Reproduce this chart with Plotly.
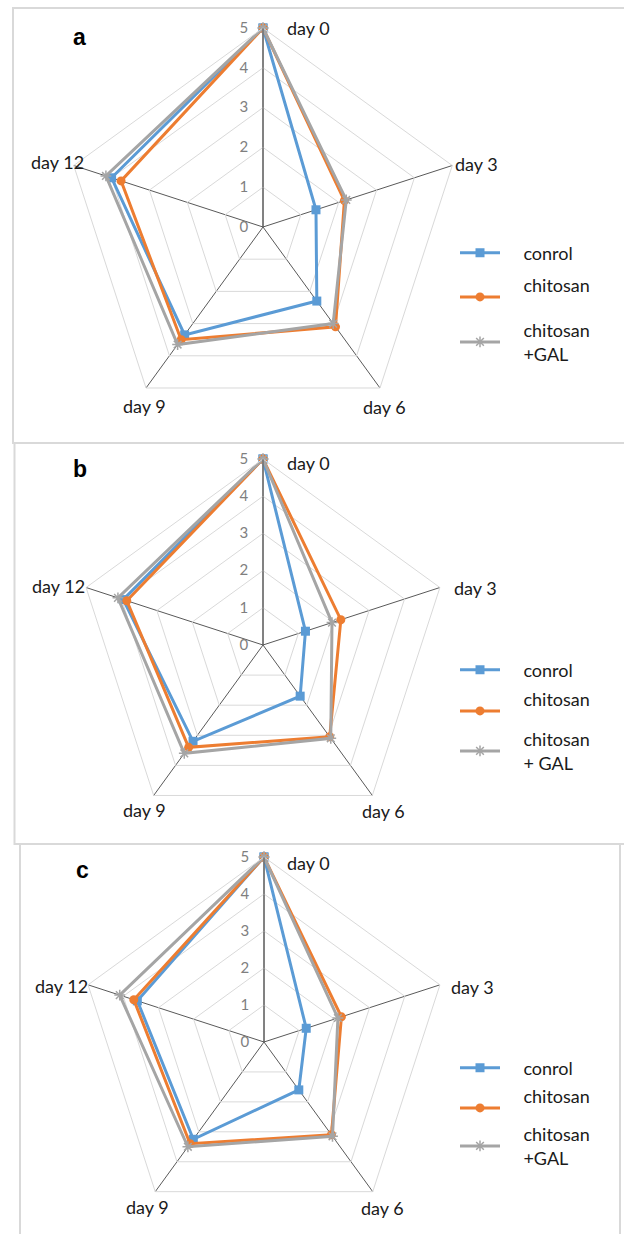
import plotly.graph_objects as go

# ---------------- data ----------------
days = ["day 0", "day 3", "day 6", "day 9", "day 12"]
series_names = ["conrol", "chitosan", "chitosan +GAL"]
radial_ticks = [0, 1, 2, 3, 4, 5]

a_control = [5, 1.4, 2.3, 3.35, 4.0]
a_chitosan = [5, 2.15, 3.1, 3.5, 3.75]
a_chitosan_gal = [5, 2.2, 3.0, 3.65, 4.15]

b_control = [5, 1.2, 1.7, 3.2, 3.95]
b_chitosan = [5, 2.2, 3.05, 3.4, 3.85]
b_chitosan_gal = [5, 1.95, 3.1, 3.6, 4.1]

c_control = [5, 1.2, 1.6, 3.25, 3.6]
c_chitosan = [5, 2.2, 3.1, 3.4, 3.7]
c_chitosan_gal = [5, 2.1, 3.15, 3.5, 4.1]

# ---------------- layout helpers ----------------
W, H = 624, 1234


def px(x):
    return x / W


def py(y):
    return 1 - y / H


colors = ["#5B9BD5", "#ED7D31", "#A5A5A5"]
symbols = ["square", "circle", "asterisk-open"]
FONT = "Lato, 'Open Sans', sans-serif"
PAD = "\u00a0" * 4

panels = [
    dict(letter="a", cx=263, cy=227, R=199,
         data=[a_control, a_chitosan, a_chitosan_gal],
         legend_text=["conrol", "chitosan<br>\u00a0", "chitosan<br>+GAL"],
         label_xy=[(308, 28), (476, 164), (384, 407), (144, 406), (57, 162)],
         letter_xy=(79, 37), legend_y=[253, 297, 342],
         frame=(13, 8, 640, 443)),
    dict(letter="b", cx=263, cy=645, R=186,
         data=[b_control, b_chitosan, b_chitosan_gal],
         legend_text=["conrol", "chitosan<br>\u00a0", "chitosan<br>+ GAL"],
         label_xy=[(308, 463), (475, 588), (383, 811), (144, 810), (58, 586)],
         letter_xy=(80, 469), legend_y=[670, 711, 751],
         frame=(14.5, 443, 640, 844)),
    dict(letter="c", cx=264, cy=1042, R=185,
         data=[c_control, c_chitosan, c_chitosan_gal],
         legend_text=["conrol", "chitosan<br>\u00a0", "chitosan<br>+GAL"],
         label_xy=[(308, 863), (472, 987), (382, 1208), (147, 1207), (62, 986)],
         letter_xy=(82, 870), legend_y=[1068, 1108, 1146],
         frame=(20, 844, 620, 1250)),
]

fig = go.Figure()
annotations = []
shapes = []
layout_extra = {}

for pi, p in enumerate(panels):
    polar_key = "polar" if pi == 0 else f"polar{pi + 1}"
    subplot = polar_key
    for si, vals in enumerate(p["data"]):
        li = pi * 3 + si
        legend_key = "legend" if li == 0 else f"legend{li + 1}"
        label = "<br>".join(PAD + part for part in p["legend_text"][si].split("<br>"))
        fig.add_trace(go.Scatterpolar(
            r=vals + [vals[0]],
            theta=days + [days[0]],
            mode="lines+markers",
            name=label,
            line=dict(color=colors[si], width=3),
            marker=dict(symbol=symbols[si], size=9,
                        color=colors[si],
                        line=dict(color=colors[si], width=1.5 if si == 2 else 0)),
            subplot=subplot,
            legend=legend_key,
            showlegend=True,
        ))
        layout_extra[legend_key] = dict(
            x=px(455), xanchor="left",
            y=py(p["legend_y"][si]), yanchor="middle",
            bgcolor="rgba(0,0,0,0)", borderwidth=0,
            font=dict(family=FONT, size=18, color="#1a1a1a"),
            itemwidth=40, valign="middle",
        )

    cx, cy, R = p["cx"], p["cy"], p["R"]
    layout_extra[polar_key] = dict(
        domain=dict(x=[px(cx - R), px(cx + R)], y=[py(cy + R), py(cy - R)]),
        gridshape="linear",
        bgcolor="white",
        radialaxis=dict(
            range=[0, 5], tickvals=radial_ticks, angle=90,
            side="counterclockwise", tickangle=90,
            showline=True, linecolor="#595959", linewidth=1,
            gridcolor="#d9d9d9", gridwidth=1,
            ticks="outside", ticklen=9, tickcolor="rgba(0,0,0,0)",
            tickfont=dict(family=FONT, size=15, color="#7f7f7f"),
        ),
        angularaxis=dict(
            type="category", categoryarray=days, rotation=90,
            direction="clockwise",
            showticklabels=False, ticks="",
            showgrid=True, gridcolor="#595959", gridwidth=1,
            showline=True, linecolor="#d9d9d9", linewidth=1,
        ),
    )

    for (lx, ly), day in zip(p["label_xy"], days):
        annotations.append(dict(
            x=px(lx), y=py(ly), xref="paper", yref="paper",
            text=day, showarrow=False, xanchor="center", yanchor="middle",
            font=dict(family=FONT, size=18, color="#1a1a1a"),
        ))
    annotations.append(dict(
        x=px(p["letter_xy"][0]), y=py(p["letter_xy"][1]), xref="paper", yref="paper",
        text=f"<b>{p['letter']}</b>", showarrow=False, xanchor="center", yanchor="middle",
        font=dict(family="Liberation Sans, Arial, sans-serif", size=23, color="#000000"),
    ))
    x0, y0, x1, y1 = p["frame"]
    shapes.append(dict(
        type="rect", xref="paper", yref="paper",
        x0=px(x0), x1=px(x1), y0=py(y1), y1=py(y0),
        line=dict(color="#d9d9d9", width=2), fillcolor="rgba(0,0,0,0)", layer="below",
    ))

fig.update_layout(
    width=W, height=H,
    margin=dict(l=0, r=0, t=0, b=0),
    paper_bgcolor="white",
    annotations=annotations,
    shapes=shapes,
    **layout_extra,
)

fig.write_html("out.html", config={"displayModeBar": False},
               post_script="document.body.style.margin='0px';")
